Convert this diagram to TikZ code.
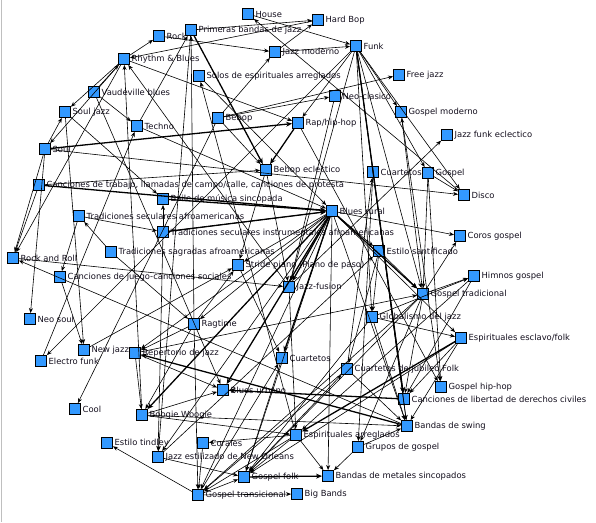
\documentclass[tikz,border=0pt]{standalone}
\usepackage{fontspec}
\setmainfont{DejaVu Sans}
\usetikzlibrary{arrows.meta}
\definecolor{nodeblue}{RGB}{51,153,255}
\definecolor{lblcol}{RGB}{20,15,30}
\tikzset{
  nd/.style={draw=black,fill=nodeblue,minimum size=11pt,inner sep=0pt,line width=0.9pt},
  lb/.style={font=\fontsize{8.4}{10}\selectfont,text=lblcol,inner sep=0.5pt,label distance=1pt},
  ed/.style={-{Stealth[length=5pt,width=4pt]},line width=0.6pt},
  edk/.style={-{Stealth[length=6pt,width=5pt]},line width=1.3pt}
}
\begin{document}
\begin{tikzpicture}[x=1pt,y=-1pt]
\useasboundingbox (0,0) rectangle (596,522);
\fill[white] (0,0) rectangle (596,522);
\draw[gray!50,line width=1.2pt] (1.5,0) -- (1.5,522);
% nodes
\node[nd,label={[lb]right:House}] (hou) at (248,14) {};
\node[nd,label={[lb]right:Hard Bop}] (hbp) at (318,20) {};
\node[nd,label={[lb]right:Primeras bandas de jazz}] (pbj) at (191,30) {};
\node[nd,label={[lb]right:Rock}] (rck) at (159,36) {};
\node[nd,label={[lb]right:Funk}] (fnk) at (356,46) {};
\node[nd,label={[lb]right:Jazz moderno}] (jmo) at (275,52) {};
\node[nd,label={[lb]right:Rhythm \& Blues}] (rnb) at (124,59) {};
\node[nd,label={[lb]right:Solos de espirituales arreglados}] (sea) at (199,76) {};
\node[nd,label={[lb]right:Free jazz}] (fjz) at (399,75) {};
\node[nd,label={[lb]right:Vaudeville blues}] (vdb) at (94,92) {};
\node[nd,label={[lb]right:Neo-clasico}] (ncl) at (335,96) {};
\node[nd,label={[lb]right:Soul jazz}] (sjz) at (65,112) {};
\node[nd,label={[lb]right:Gospel moderno}] (gmo) at (401,112) {};
\node[nd,label={[lb]right:Rap/hip-hop}] (rap) at (298,123) {};
\node[nd,label={[lb]right:Bebop}] (bbp) at (218,118) {};
\node[nd,label={[lb]right:Techno}] (tec) at (137,126) {};
\node[nd,label={[lb]right:Jazz funk eclectico}] (jfe) at (447,135) {};
\node[nd,label={[lb]right:Soul}] (sol) at (45,149) {};
\node[nd,label={[lb]right:Bebop eclectico}] (bbe) at (266,170) {};
\node[nd,label={[lb]right:Cuartetos}] (cu1) at (373,172) {};
\node[nd,label={[lb]right:Gospel}] (gsp) at (428,173) {};
\node[nd,label={[lb]right:Canciones de trabajo, llamadas de campo/calle, canciones de protesta}] (ctr) at (39,185) {};
\node[nd,label={[lb]right:Disco}] (dis) at (464,195) {};
\node[nd,label={[lb]right:Baile de música sincopada}] (bms) at (163,199) {};
\node[nd,label={[lb]right:Blues rural}] (blr) at (332,211) {};
\node[nd,label={[lb]right:Tradiciones seculares afroamericanas}] (tsa) at (79,216) {};
\node[nd,label={[lb]right:Tradiciones seculares instrumentales afroamericanas}] (tsi) at (163,232) {};
\node[nd,label={[lb]right:Coros gospel}] (cgo) at (460,236) {};
\node[nd,label={[lb]right:Estilo santificado}] (esa) at (379,251) {};
\node[nd,label={[lb]right:Tradiciones sagradas afroamericanas}] (tsg) at (111,252) {};
\node[nd,label={[lb]right:Rock and Roll}] (rnr) at (13,258) {};
\node[nd,label={[lb]right:Stride piano (Piano de paso)}] (str) at (238,265) {};
\node[nd,label={[lb]right:Canciones de juego-canciones sociales}] (cjs) at (60,277) {};
\node[nd,label={[lb]right:Himnos gospel}] (hgo) at (474,276) {};
\node[nd,label={[lb]right:Jazz-fusion}] (jfu) at (289,287) {};
\node[nd,label={[lb]right:Gospel tradicional}] (gtr) at (423,294) {};
\node[nd,label={[lb]right:Globalismo del jazz}] (gdj) at (372,317) {};
\node[nd,label={[lb]right:Neo soul}] (nso) at (30,319) {};
\node[nd,label={[lb]right:Ragtime}] (rag) at (194,324) {};
\node[nd,label={[lb]right:Espirituales esclavo/folk}] (eef) at (461,338) {};
\node[nd,label={[lb]right:New jazz}] (njz) at (84,350) {};
\node[nd,label={[lb]right:Electro funk}] (efk) at (41,361) {};
\node[nd,label={[lb]right:Repertorio de jazz}] (rep) at (135,353) {};
\node[nd,label={[lb]right:Cuartetos}] (cu2) at (282,358) {};
\node[nd,label={[lb]right:Cuartetos de jubileo Folk}] (cjf) at (347,369) {};
\node[nd,label={[lb]right:Gospel hip-hop}] (ghh) at (441,387) {};
\node[nd,label={[lb]right:Blues urbano}] (blu) at (223,390) {};
\node[nd,label={[lb]right:Canciones de libertad de derechos civiles}] (cld) at (404,399) {};
\node[nd,label={[lb]right:Cool}] (col) at (75,409) {};
\node[nd,label={[lb]right:Boogie Woogie}] (bwo) at (142,415) {};
\node[nd,label={[lb]right:Bandas de swing}] (bsw) at (407,426) {};
\node[nd,label={[lb]right:Espirituales arreglados}] (ear) at (296,435) {};
\node[nd,label={[lb]right:Estilo tindley}] (eti) at (107,443) {};
\node[nd,label={[lb]right:Corales}] (crl) at (203,443) {};
\node[nd,label={[lb]right:Grupos de gospel}] (ggo) at (358,447) {};
\node[nd,label={[lb]right:Jazz estilizado de New Orleans}] (jno) at (158,457) {};
\node[nd,label={[lb]right:Gospel folk}] (gfo) at (244,477) {};
\node[nd,label={[lb]right:Bandas de metales sincopados}] (bmt) at (328,476) {};
\node[nd,label={[lb]right:Gospel transicional}] (gtn) at (198,495) {};
\node[nd,label={[lb]right:Big Bands}] (bbd) at (297,494) {};
% thin edges
\foreach \a/\b in {pbj/hbp, jmo/hbp, bbp/jmo, jmo/fnk, dis/hou, hbp/rnb, rnb/rck, rnb/sol, rnb/sjz,
  vdb/rnb, sol/sjz, sol/nso, sol/dis, sol/rnr, rnb/rnr, fnk/rap, fnk/gmo, fnk/gsp, fnk/jfu, fnk/gtr,
  fnk/cld, fnk/bsw, fnk/efk, fnk/dis, bbp/ncl, bbp/fjz, jfu/jfe, gtr/gmo, gmo/ghh, rap/ghh, gsp/dis,
  gtr/cgo, blr/cgo, gtr/hgo, gdj/hgo, esa/gtr, gdj/eef, blr/eef, eef/cld, bwo/bsw, blr/bsw, ggo/bmt,
  ear/bmt, blr/bmt, gtn/bbd, gtn/eti, gtn/gfo, jno/gfo, rep/bwo, tsi/jno, bwo/blu, rep/blu, bwo/rnb,
  blr/str, blr/rag, blr/rep, blr/esa, tsi/blr, tsa/cjs, tsg/tsa, njz/str, tsa/tsi, tsi/bms, ctr/rnr,
  bsw/rnr, rnr/jfu, sjz/njz, bbp/col, bbp/bbe, ear/sea, rag/pbj, pbj/jno, cjf/cu1, gtr/ggo, ggo/bsw,
  gfo/cjf, gtn/cu2, fnk/gdj, jno/esa, efk/tec, vdb/blu, rnb/rap, rag/str, rag/rep, rag/bwo, jfu/rnb,
  bbe/jfu, bbe/str, blr/gfo, blr/jno, blr/gtn, gtr/gfo, eef/gfo, gdj/gfo, ear/gfo, cu2/gfo, ear/gtn,
  cjf/gtn, rag/gtn, gtr/gtn, gtr/cld, gsp/gtr, gsp/ghh, hgo/ear, ear/crl, eef/bsw, hgo/cld, tec/pbj,
  vdb/tec, cu1/bsw, ncl/jfu, hou/fnk, rck/jmo, sea/blr, tec/blr, sjz/bms, ctr/bbe, cjs/njz, tsg/rag,
  str/cu2, jfu/ear, esa/cjf, esa/gdj, gdj/bsw, cu1/ggo, cjf/bsw, rep/gtr, bwo/ear, crl/gtn}
  \draw[ed] (\a) -- (\b);
% thick edges
\foreach \a/\b in {sol/rap, blr/gtr, bms/blr, ctr/blr, eef/ear, bsw/rep, pbj/bbe, blr/blu, blr/bwo,
  blr/jfu, rap/bbe, gfo/bmt, cld/blu, fnk/cld, tsi/blr, blr/cu2}
  \draw[edk] (\a) -- (\b);
\end{tikzpicture}
\end{document}
